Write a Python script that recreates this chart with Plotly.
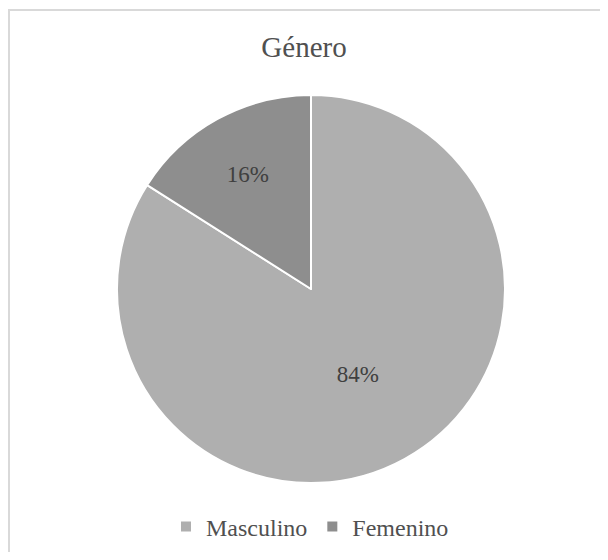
import plotly.graph_objects as go

labels = ["Masculino", "Femenino"]
values = [84, 16]
colors = ["#afafaf", "#8e8e8e"]

# The page body has an 8px margin, so the figure is drawn 8px in from the window edge.
OFF = 8
W, H = 608 - 2 * OFF, 560 - 2 * OFF

def px(x):
    return (x - OFF) / W

def py(y):
    return 1 - (y - OFF) / H

fig = go.Figure(go.Pie(
    labels=labels,
    values=values,
    sort=False,
    direction="clockwise",
    rotation=0,
    marker=dict(colors=colors, line=dict(color="white", width=2)),
    textinfo="percent",
    texttemplate="%{percent:.0%}",
    textposition="inside",
    insidetextorientation="horizontal",
    textfont=dict(family="Liberation Serif", size=23, color="#404040"),
    domain=dict(x=[px(117), px(505)], y=[py(486), py(92)]),
    hoverinfo="label+percent",
))

# chart-area frame: only left and top edges are visible in the window
frame_path = f"M {px(9)} -0.1 L {px(9)} {py(10)} L 1.1 {py(10)}"

fig.update_layout(
    width=W, height=H,
    margin=dict(l=0, r=0, t=0, b=0),
    paper_bgcolor="white",
    title=dict(text="Género", x=0.5, xanchor="center", y=py(47), yanchor="middle",
               font=dict(family="Liberation Serif", size=29, color="#505050")),
    showlegend=True,
    legend=dict(orientation="h", x=px(310), xanchor="center", y=py(527), yanchor="middle",
                font=dict(family="Liberation Serif", size=24, color="#505050"),
                itemwidth=30),
    shapes=[dict(type="path", xref="paper", yref="paper", path=frame_path,
                 line=dict(color="#d9d9d9", width=2))],
)

fig.write_html("out.html")
